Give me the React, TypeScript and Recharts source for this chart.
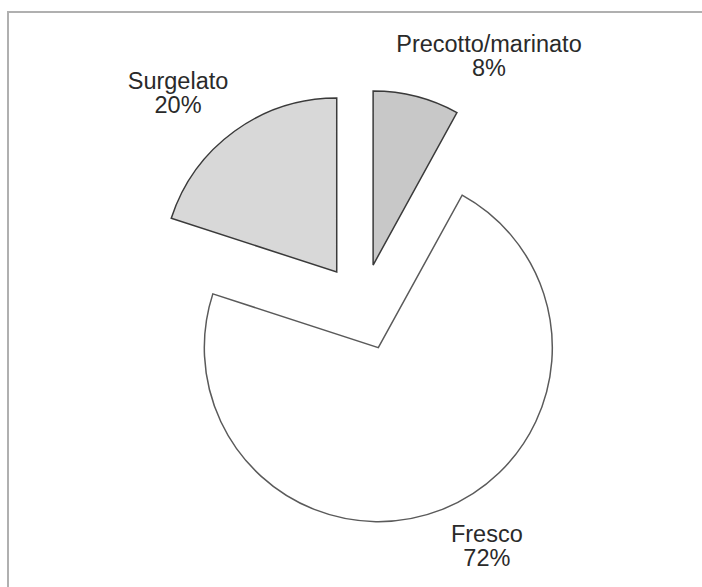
import { PieChart, Pie, Cell } from 'recharts';

// categories in drawing order (clockwise from 12 o'clock)
const categories = ['Precotto/marinato', 'Fresco', 'Surgelato'];
const shares = [8, 72, 20];
const percentLabels = ['8%', '72%', '20%'];

const FILLS = ['#c8c8c8', '#ffffff', '#d8d8d8'];
const STROKES = ['#3a3a3a', '#5a5a5a', '#3a3a3a'];

// label placement: extra angle (deg) from mid-angle and distance from slice apex
const LABEL_NUDGE = [-14.6, 7.1, 5.6];
const LABEL_RADIUS = [239, 226, 239];

const W = 702;
const H = 587;
const CENTER_X = 362.3;
const CENTER_Y = 307.2;
const RADIUS = 174;
const EXPLODE = 43.5;
const START = 90;
const END = -270;

const data = categories.map((name, i) => ({ name, value: shares[i], pct: percentLabels[i] }));

const total = shares.reduce((a, b) => a + b, 0);
const RADIAN = Math.PI / 180;

// offset of each slice along its mid-angle
const offsets = shares.map((v, i) => {
  const before = shares.slice(0, i).reduce((a, b) => a + b, 0);
  const mid = START - (360 * (before + v / 2)) / total;
  return { dx: EXPLODE * Math.cos(mid * RADIAN), dy: -EXPLODE * Math.sin(mid * RADIAN) };
});

const makeLabel = (only: number) => (props: any) => {
  const { cx, cy, midAngle, index } = props;
  if (index !== only) return null;
  const a = (midAngle + LABEL_NUDGE[index]) * RADIAN;
  const r = LABEL_RADIUS[index];
  const x = cx + r * Math.cos(a);
  const y = cy - r * Math.sin(a);
  return (
    <text
      x={x}
      y={y}
      textAnchor="middle"
      fill="#2a2a2a"
      fontFamily="'Liberation Sans', Arial, sans-serif"
      fontSize={23.5}
    >
      <tspan x={x} y={y - 4}>{data[index].name}</tspan>
      <tspan x={x} y={y + 20}>{data[index].pct}</tspan>
    </text>
  );
};

export default function App() {
  return (
    <div style={{ position: 'absolute', left: 0, top: 0, width: W, height: H, background: '#fff' }}>
      <div
        style={{
          position: 'absolute',
          left: 7,
          top: 11,
          width: W - 7,
          height: H - 11,
          borderTop: '2px solid #b0b0b0',
          borderLeft: '2px solid #b0b0b0',
          boxSizing: 'border-box',
        }}
      />
      <div style={{ position: 'absolute', left: 0, top: 0 }}>
        <PieChart width={W} height={H} margin={{ top: 0, right: 0, bottom: 0, left: 0 }}>
          {offsets.map((o, k) => (
            <Pie
              key={`pie-${k}`}
              data={data}
              dataKey="value"
              nameKey="name"
              cx={CENTER_X + o.dx}
              cy={CENTER_Y + o.dy}
              outerRadius={RADIUS}
              startAngle={START}
              endAngle={END}
              labelLine={false}
              label={makeLabel(k)}
              isAnimationActive={false}
            >
              {data.map((_, i) => (
                <Cell
                  key={`cell-${k}-${i}`}
                  fill={i === k ? FILLS[i] : 'none'}
                  stroke={i === k ? STROKES[i] : 'none'}
                  strokeWidth={1.5}
                />
              ))}
            </Pie>
          ))}
        </PieChart>
      </div>
    </div>
  );
}
